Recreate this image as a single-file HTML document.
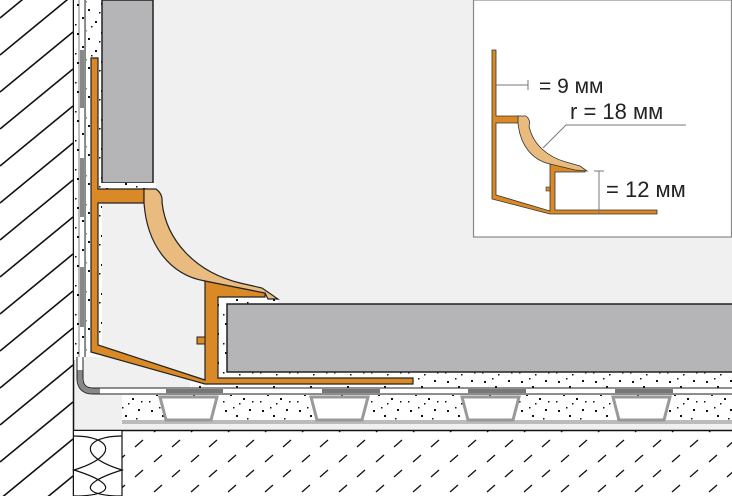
<!DOCTYPE html>
<html><head><meta charset="utf-8"><style>
html,body{margin:0;padding:0;background:#f0f0f0}
svg{display:block}
text{font-family:"Liberation Sans",sans-serif;fill:#222}
</style></head><body>
<svg width="732" height="496" viewBox="0 0 732 496" xmlns="http://www.w3.org/2000/svg">
<defs>
<pattern id="dots" width="37" height="29" patternUnits="userSpaceOnUse">
<rect width="37" height="29" fill="#fff"/>
<g fill="#111">
<rect x="3" y="4" width="2" height="2"/><rect x="14" y="9" width="2" height="2"/><rect x="27" y="3" width="2" height="2"/>
<rect x="8" y="17" width="2" height="2"/><rect x="21" y="21" width="2" height="2"/><rect x="32" y="14" width="2" height="2"/>
<rect x="17" y="26" width="1.5" height="1.5"/><rect x="1" y="24" width="1.5" height="1.5"/><rect x="25" y="12" width="1.5" height="1.5"/>
<rect x="11" y="1" width="1.5" height="1.5"/><rect x="30" y="24" width="1.5" height="1.5"/>
</g></pattern>
<pattern id="hatch" width="73" height="37" patternUnits="userSpaceOnUse">
<rect width="73" height="37" fill="#fff"/>
<path d="M0,55 L73,-5 M0,18 L73,-42 M0,92 L73,32" stroke="#111" stroke-width="1.6"/>
</pattern>
<pattern id="dash" width="37" height="30" patternUnits="userSpaceOnUse">
<rect width="37" height="30" fill="#fff"/>
<path d="M6,12 L14,5 M24,27 L32,20" stroke="#111" stroke-width="1.3"/>
</pattern>
</defs>
<rect width="732" height="496" fill="#f0f0f0"/>
<!-- left wall -->
<rect x="0" y="0" width="73" height="496" fill="url(#hatch)"/>
<line x1="73.5" y1="0" x2="73.5" y2="496" stroke="#111" stroke-width="1.5"/>
<!-- strip -->
<rect x="74" y="0" width="11" height="360" fill="url(#dots)"/>
<rect x="80" y="50" width="4" height="58" fill="#888"/>
<rect x="80" y="158" width="4" height="59" fill="#888"/>
<rect x="80" y="267" width="4" height="60" fill="#888"/>
<line x1="85" y1="0" x2="85" y2="357" stroke="#222" stroke-width="1"/>
<rect x="86" y="0" width="16" height="357" fill="url(#dots)"/>
<line x1="79" y1="0" x2="79" y2="360" stroke="#222" stroke-width="0.6"/>
<!-- wall tile -->
<rect x="102" y="0" width="51" height="183" fill="#b5b5b7" stroke="#222" stroke-width="1.5"/>
<rect x="98" y="183" width="58" height="7" fill="url(#dots)"/>
<!-- membrane corner -->
<path d="M80,357 L80,378 Q80,391 93,391 L732,391" fill="none" stroke="#222" stroke-width="7"/>
<path d="M80,357 L80,378 Q80,391 93,391 L732,391" fill="none" stroke="#fff" stroke-width="5"/>
<path d="M80,370 L80,378 Q80,391 93,391 L100,391" fill="none" stroke="#888" stroke-width="5"/>
<g fill="#777"><rect x="166" y="389" width="57" height="4"/><rect x="322" y="389" width="58" height="4"/><rect x="468" y="389" width="58" height="4"/><rect x="615" y="389" width="58" height="4"/></g>
<!-- floor adhesive -->
<rect x="190" y="380" width="542" height="8" fill="url(#dots)"/>
<rect x="215" y="296" width="63" height="92" fill="url(#dots)"/>
<rect x="215" y="370" width="517" height="18" fill="url(#dots)"/>
<line x1="190" y1="388" x2="732" y2="388" stroke="#222" stroke-width="1"/>
<!-- floor tile -->
<rect x="227" y="304" width="506" height="68" fill="#b5b5b7" stroke="#222" stroke-width="1.5"/>
<!-- screed -->
<rect x="122" y="395" width="610" height="26" fill="url(#dots)"/>
<rect x="122" y="420" width="610" height="4" fill="#bbb"/>
<g fill="#fff" stroke="#999" stroke-width="3">
<path d="M160,397 L217,397 L211,420 L166,420 Z"/>
<path d="M311,397 L368,397 L362,420 L317,420 Z"/>
<path d="M462,397 L519,397 L513,420 L468,420 Z"/>
<path d="M613,397 L670,397 L664,420 L619,420 Z"/>
</g>
<!-- bottom -->
<rect x="74" y="431" width="658" height="65" fill="url(#dash)"/>
<line x1="73" y1="430.5" x2="732" y2="430.5" stroke="#111" stroke-width="1.5"/>
<rect x="74" y="431" width="48" height="65" fill="#fff"/>
<path d="M74,436 C110,436 122,455 74,470 C122,485 110,496 74,496 M122,436 C86,436 74,455 122,470 C74,485 86,496 122,496" fill="none" stroke="#111" stroke-width="1.2"/>
<line x1="122" y1="431" x2="122" y2="496" stroke="#111" stroke-width="1.2"/>
<!-- profile -->
<path d="M91,58 L98,58 L98,189 L144,189 L144,203 L98,203 L98,345 L205,380 L205,281 L265,293 L265,297 L218,297 L218,378 L413,378 L413,384 L205,384 L91,352 Z" fill="#d98a26" stroke="#222" stroke-width="1.2"/>
<rect x="197" y="337" width="8" height="7" fill="#d98a26" stroke="#222" stroke-width="1"/>
<path d="M144,189 L156,189 Q163,194 162,202 C166,240 195,272 240,283 L262,288 L278,299 L268,299 L265,293 L205,281 C170,275 147,245 144,203 Z" fill="#e9bb7f" stroke="#222" stroke-width="1.2"/>
<!-- inset -->
<rect x="473.5" y="0" width="258" height="237" fill="#fff" stroke="#888" stroke-width="1.2"/>
<path d="M492,50 L496,50 L496,116 L520,116 L520,123 L496,123 L496,195 L550,211 L550,164 L585,170 L585,172 L555,172 L555,210 L657,210 L657,214 L550,214 L492,199 Z" fill="#d98a26" stroke="#333" stroke-width="0.8"/>
<rect x="546" y="187" width="4" height="4" fill="#d98a26" stroke="#333" stroke-width="0.6"/>
<path d="M518,116 L526,116 Q531,120 529,126 C533,145 548,157 566,162 L580,166 L587,171 L575,170 L550,164 C532,160 520,145 518,123 Z" fill="#e9bb7f" stroke="#333" stroke-width="0.8"/>
<g stroke="#777" stroke-width="1" fill="none">
<path d="M496,85 L528,85 M528,80 L528,90"/>
<path d="M543,148 L566,125 L686,125"/>
<path d="M599,213 L599,171 M594,171 L604,171"/>
</g>
<text x="539" y="93" font-size="21">= 9 мм</text>
<text x="570" y="119" font-size="22">r = 18 мм</text>
<text x="606" y="197" font-size="22">= 12 мм</text>
</svg>
</body></html>
